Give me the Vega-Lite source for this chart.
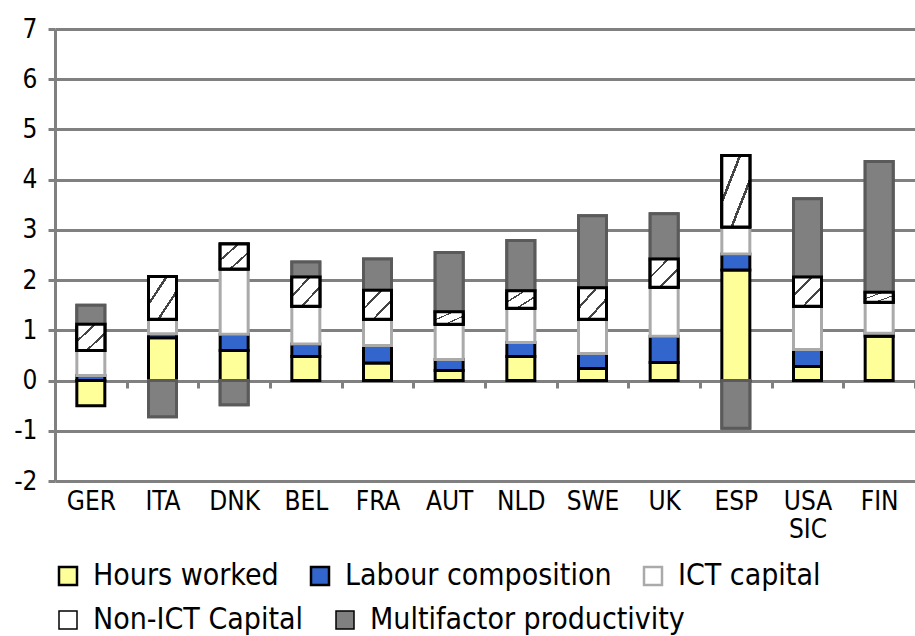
{
  "$schema": "https://vega.github.io/schema/vega-lite/v6.json",
  "width": 860,
  "height": 452,
  "autosize": {"type": "none"},
  "padding": {"left": 55, "top": 29, "right": 0, "bottom": 155},
  "background": "white",
  "config": {
    "view": {"stroke": null},
    "font": "DejaVu Sans Condensed, Liberation Sans Narrow, DejaVu Sans, sans-serif"
  },
  "data": {
    "values": [
      {"country": "GER", "component": "Hours worked", "value": -0.5},
      {"country": "GER", "component": "Labour composition", "value": 0.1},
      {"country": "GER", "component": "ICT capital", "value": 0.5},
      {"country": "GER", "component": "Non-ICT Capital", "value": 0.52},
      {"country": "GER", "component": "Multifactor productivity", "value": 0.38},
      {"country": "ITA", "component": "Hours worked", "value": 0.85},
      {"country": "ITA", "component": "Labour composition", "value": 0.08},
      {"country": "ITA", "component": "ICT capital", "value": 0.29},
      {"country": "ITA", "component": "Non-ICT Capital", "value": 0.85},
      {"country": "ITA", "component": "Multifactor productivity", "value": -0.72},
      {"country": "DNK", "component": "Hours worked", "value": 0.6},
      {"country": "DNK", "component": "Labour composition", "value": 0.32},
      {"country": "DNK", "component": "ICT capital", "value": 1.3},
      {"country": "DNK", "component": "Non-ICT Capital", "value": 0.5},
      {"country": "DNK", "component": "Multifactor productivity", "value": -0.48},
      {"country": "BEL", "component": "Hours worked", "value": 0.48},
      {"country": "BEL", "component": "Labour composition", "value": 0.25},
      {"country": "BEL", "component": "ICT capital", "value": 0.75},
      {"country": "BEL", "component": "Non-ICT Capital", "value": 0.58},
      {"country": "BEL", "component": "Multifactor productivity", "value": 0.3},
      {"country": "FRA", "component": "Hours worked", "value": 0.35},
      {"country": "FRA", "component": "Labour composition", "value": 0.35},
      {"country": "FRA", "component": "ICT capital", "value": 0.52},
      {"country": "FRA", "component": "Non-ICT Capital", "value": 0.58},
      {"country": "FRA", "component": "Multifactor productivity", "value": 0.62},
      {"country": "AUT", "component": "Hours worked", "value": 0.2},
      {"country": "AUT", "component": "Labour composition", "value": 0.22},
      {"country": "AUT", "component": "ICT capital", "value": 0.7},
      {"country": "AUT", "component": "Non-ICT Capital", "value": 0.25},
      {"country": "AUT", "component": "Multifactor productivity", "value": 1.18},
      {"country": "NLD", "component": "Hours worked", "value": 0.48},
      {"country": "NLD", "component": "Labour composition", "value": 0.28},
      {"country": "NLD", "component": "ICT capital", "value": 0.68},
      {"country": "NLD", "component": "Non-ICT Capital", "value": 0.35},
      {"country": "NLD", "component": "Multifactor productivity", "value": 1.0},
      {"country": "SWE", "component": "Hours worked", "value": 0.24},
      {"country": "SWE", "component": "Labour composition", "value": 0.3},
      {"country": "SWE", "component": "ICT capital", "value": 0.68},
      {"country": "SWE", "component": "Non-ICT Capital", "value": 0.63},
      {"country": "SWE", "component": "Multifactor productivity", "value": 1.43},
      {"country": "UK", "component": "Hours worked", "value": 0.36},
      {"country": "UK", "component": "Labour composition", "value": 0.52},
      {"country": "UK", "component": "ICT capital", "value": 0.98},
      {"country": "UK", "component": "Non-ICT Capital", "value": 0.56},
      {"country": "UK", "component": "Multifactor productivity", "value": 0.9},
      {"country": "ESP", "component": "Hours worked", "value": 2.2},
      {"country": "ESP", "component": "Labour composition", "value": 0.32},
      {"country": "ESP", "component": "ICT capital", "value": 0.54},
      {"country": "ESP", "component": "Non-ICT Capital", "value": 1.42},
      {"country": "ESP", "component": "Multifactor productivity", "value": -0.95},
      {"country": "USA SIC", "component": "Hours worked", "value": 0.28},
      {"country": "USA SIC", "component": "Labour composition", "value": 0.34},
      {"country": "USA SIC", "component": "ICT capital", "value": 0.86},
      {"country": "USA SIC", "component": "Non-ICT Capital", "value": 0.58},
      {"country": "USA SIC", "component": "Multifactor productivity", "value": 1.56},
      {"country": "FIN", "component": "Hours worked", "value": 0.88},
      {"country": "FIN", "component": "Labour composition", "value": 0.06},
      {"country": "FIN", "component": "ICT capital", "value": 0.62},
      {"country": "FIN", "component": "Non-ICT Capital", "value": 0.2},
      {"country": "FIN", "component": "Multifactor productivity", "value": 2.6}
    ]
  },
  "transform": [
    {"calculate": "indexof(['Hours worked','Labour composition','ICT capital','Non-ICT Capital','Multifactor productivity'], datum.component)", "as": "rank"},
    {"stack": "value", "groupby": ["country"], "sort": [{"field": "rank", "order": "ascending"}], "as": ["v0", "v1"]}
  ],
  "encoding": {
    "x": {
      "field": "country",
      "type": "nominal",
      "sort": null,
      "scale": {"paddingInner": 0, "paddingOuter": 0},
      "axis": {
        "title": null,
        "orient": "bottom",
        "offset": -100,
        "labelAngle": 0,
        "labelFontSize": 26,
        "labelColor": "black",
        "labelPadding": 100,
        "labelLineHeight": 28,
        "labelExpr": "datum.value == 'USA SIC' ? ['USA', 'SIC'] : datum.value",
        "domainColor": "#808080",
        "domainWidth": 3,
        "tickBand": "extent",
        "tickColor": "#808080",
        "tickWidth": 3,
        "tickSize": 7,
        "grid": false
      }
    },
    "y": {
      "field": "v1",
      "type": "quantitative",
      "scale": {"domain": [-2, 7], "nice": false},
      "axis": {
        "title": null,
        "values": [-2, -1, 0, 1, 2, 3, 4, 5, 6, 7],
        "labelExpr": "toString(datum.value)",
        "labelFontSize": 26,
        "labelColor": "black",
        "labelPadding": 11,
        "domainColor": "#808080",
        "domainWidth": 3,
        "tickColor": "#808080",
        "tickWidth": 3,
        "tickSize": 7,
        "grid": true,
        "gridColor": "#808080",
        "gridWidth": 3,
        "gridOpacity": 1
      }
    },
    "y2": {"field": "v0"}
  },
  "layer": [
    {
      "mark": {"type": "bar", "size": 28, "strokeWidth": 3},
      "encoding": {
        "fill": {
          "field": "component",
          "type": "nominal",
          "scale": {
            "domain": ["Hours worked", "Labour composition", "ICT capital", "Non-ICT Capital", "Multifactor productivity"],
            "range": ["#FFFF99", "#3366CC", "#FFFFFF", "#FFFFFF", "#808080"]
          },
          "legend": {
            "title": null,
            "orient": "none",
            "legendX": -2,
            "legendY": 532,
            "direction": "horizontal",
            "values": ["Hours worked", "Labour composition", "ICT capital"],
            "columnPadding": 26,
            "symbolType": "square",
            "symbolSize": 324,
            "labelFontSize": 30,
            "labelColor": "black",
            "labelOffset": 10,
            "labelLimit": 0,
            "encode": {
              "symbols": {
                "update": {
                  "stroke": {"signal": "datum.value == 'ICT capital' ? '#AAAAAA' : '#000000'"},
                  "strokeWidth": {"value": 2.5}
                }
              }
            }
          }
        },
        "stroke": {
          "field": "component",
          "type": "nominal",
          "scale": {
            "domain": ["Hours worked", "Labour composition", "ICT capital", "Non-ICT Capital", "Multifactor productivity"],
            "range": ["#000000", "#000000", "#AAAAAA", "#000000", "#5A5A5A"]
          },
          "legend": null
        }
      }
    },
    {
      "transform": [{"filter": "datum.component == 'Non-ICT Capital' || datum.component == 'Multifactor productivity'"}],
      "mark": {"type": "bar", "size": 28, "strokeWidth": 3},
      "encoding": {
        "fill": {
          "field": "component",
          "type": "nominal",
          "scale": {
            "domain": ["Non-ICT Capital", "Multifactor productivity"],
            "range": ["#FFFFFF", "#808080"]
          },
          "legend": {
            "title": null,
            "orient": "none",
            "legendX": -2,
            "legendY": 576,
            "direction": "horizontal",
            "columnPadding": 26,
            "symbolType": "square",
            "symbolSize": 324,
            "labelFontSize": 30,
            "labelColor": "black",
            "labelOffset": 10,
            "labelLimit": 0,
            "encode": {
              "symbols": {
                "update": {
                  "stroke": {"signal": "datum.value == 'Multifactor productivity' ? '#5A5A5A' : '#000000'"},
                  "strokeWidth": {"value": 2.5}
                }
              }
            }
          }
        },
        "stroke": {
          "condition": {"test": "datum.component == 'Multifactor productivity'", "value": "#5A5A5A"},
          "value": "#000000"
        }
      }
    },
    {
      "transform": [{"filter": "datum.component == 'Non-ICT Capital'"}],
      "mark": {
        "type": "bar",
        "size": 28,
        "strokeWidth": 3,
        "stroke": "#000000",
        "fill": {"gradient": "linear", "x1": 0, "y1": 0, "x2": 1, "y2": 1, "stops": [
          {"offset": 0, "color": "#FFFFFF"},
          {"offset": 0.3, "color": "#FFFFFF"},
          {"offset": 0.3, "color": "#444444"},
          {"offset": 0.35, "color": "#444444"},
          {"offset": 0.35, "color": "#FFFFFF"},
          {"offset": 0.65, "color": "#FFFFFF"},
          {"offset": 0.65, "color": "#444444"},
          {"offset": 0.7, "color": "#444444"},
          {"offset": 0.7, "color": "#FFFFFF"},
          {"offset": 1, "color": "#FFFFFF"}
        ]}
      }
    }
  ],
  "resolve": {"scale": {"fill": "independent", "stroke": "independent"}, "legend": {"fill": "independent"}}
}
